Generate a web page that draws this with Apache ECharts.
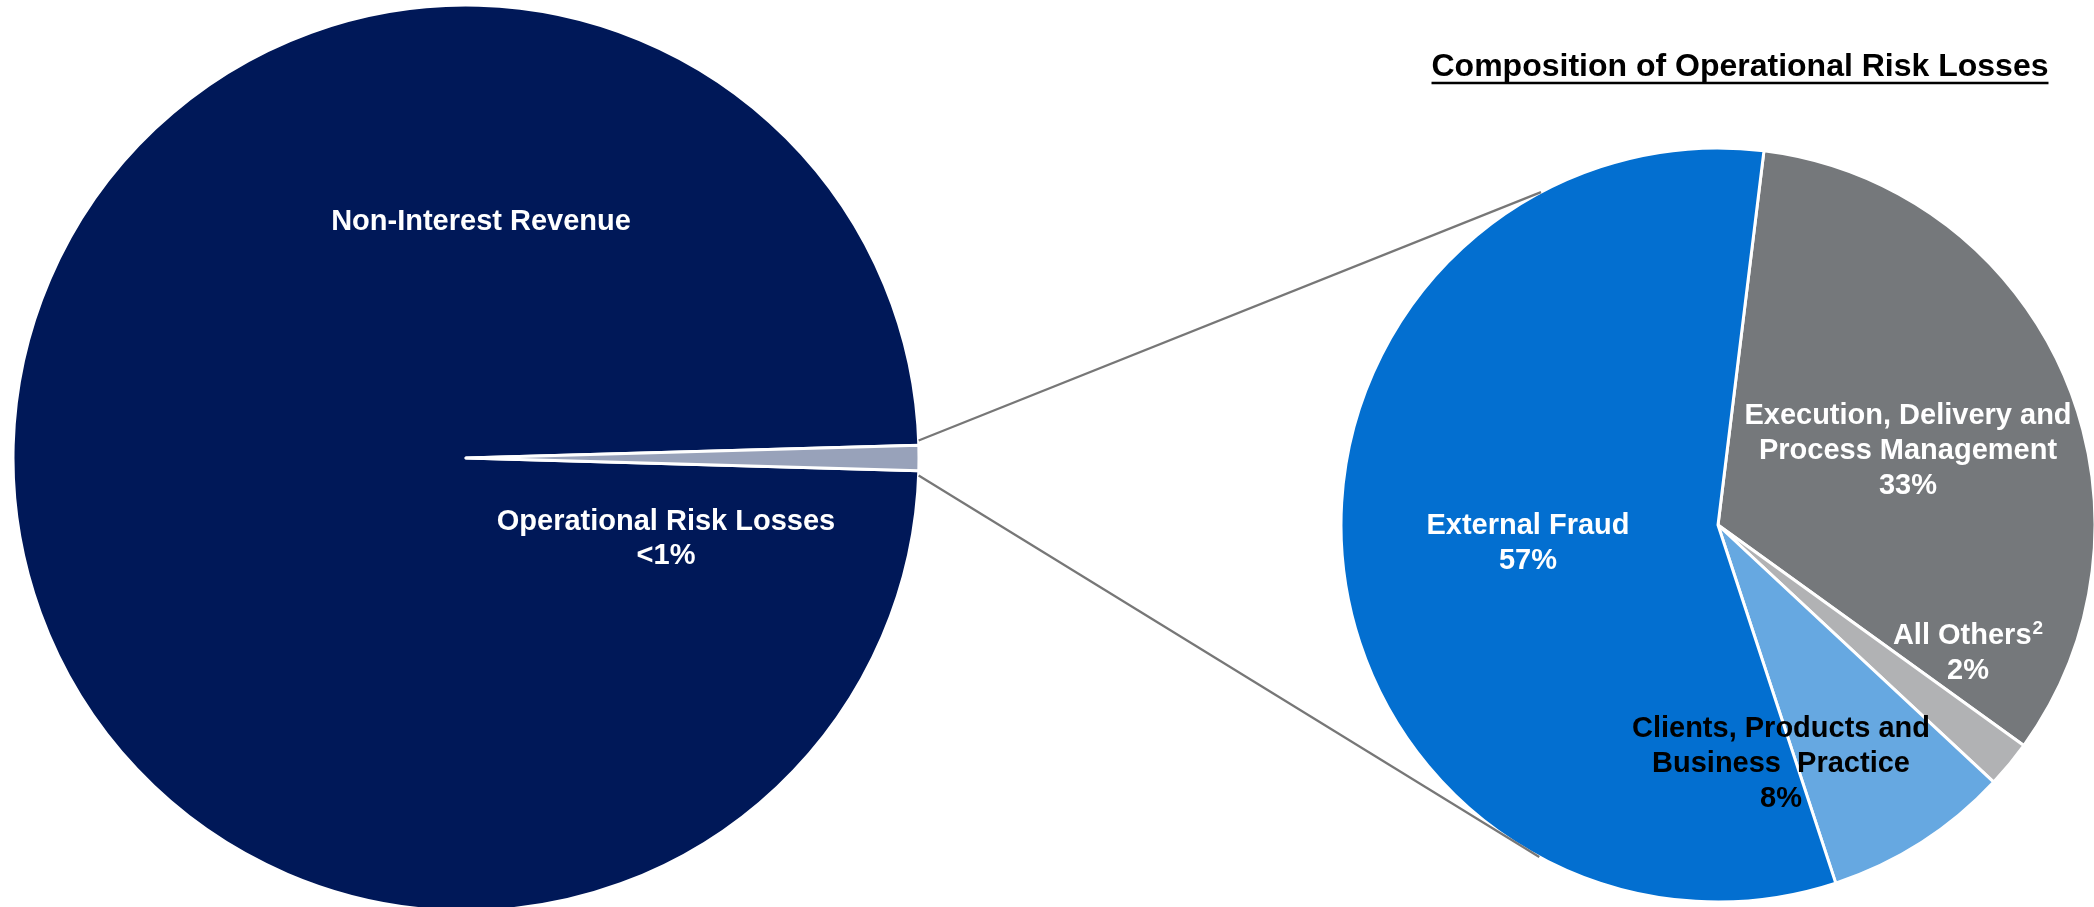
<!DOCTYPE html>
<html>
<head>
<meta charset="utf-8">
<style>
html, body { margin: 0; padding: 0; background: #fff; }
#main { width: 2094px; height: 907px; }
</style>
<script src="https://cdn.jsdelivr.net/npm/echarts@6/dist/echarts.min.js"></script>
</head>
<body>
<div id="main"></div>
<script>
// 数据
var revenueNames = ['Non-Interest Revenue', 'Operational Risk Losses'];
var revenueValues = [99.1, 0.9];
var revenueLabels = ['Non-Interest Revenue', 'Operational Risk Losses\n<1%'];

var lossNames = ['Execution, Delivery and Process Management', 'All Others', 'Clients, Products and Business Practice', 'External Fraud'];
var lossValues = [33, 2, 8, 57];
var lossLabels = [
    'Execution, Delivery and\nProcess Management\n33%',
    'All Others{sup|2}\n2%',
    'Clients, Products and\nBusiness  Practice\n8%',
    'External Fraud\n57%'
];

var titleText = 'Composition of Operational Risk Losses';

// 布局
var FONT = '"Liberation Sans", Arial, sans-serif';
var c1 = [466, 458], r1 = 453;
var c2 = [1718, 525], r2 = 377;
var pos1 = [[481, 222], [666, 539]];
var pos2 = [[1908, 451], [1968, 653], [1781, 764], [1528, 543]];

var myChart = echarts.init(document.getElementById('main'));

function sum(a) { return a.reduce(function (s, v) { return s + v; }, 0); }
var half = revenueValues[1] / sum(revenueValues) * 180; // 小扇区半角

// 连接线：左饼扇区边缘 -> 右饼边缘
function pt(c, r, deg) {
    var a = deg * Math.PI / 180;
    return [c[0] + r * Math.cos(a), c[1] - r * Math.sin(a)];
}
var gap = half + 0.6;
var p1a = pt(c1, r1, gap), p1b = pt(c2, r2, 118);
var p2a = pt(c1, r1, -gap), p2b = pt(c2, r2, -118.3);

// 标题下划线宽度
var ctx = document.createElement('canvas').getContext('2d');
ctx.font = 'bold 32px ' + FONT;
var tw = ctx.measureText(titleText).width;
var titleX = 1740;

var option = {
    backgroundColor: '#fff',
    animation: false,
    title: {
        text: titleText,
        left: titleX,
        top: 51,
        textAlign: 'center',
        padding: 0,
        textStyle: {
            color: '#000',
            fontWeight: 'bold',
            fontFamily: FONT,
            fontSize: 32
        }
    },
    graphic: [
        {
            type: 'line', z: 100,
            shape: { x1: p1a[0], y1: p1a[1], x2: p1b[0], y2: p1b[1] },
            style: { stroke: '#777777', lineWidth: 2.2 }
        },
        {
            type: 'line', z: 100,
            shape: { x1: p2a[0], y1: p2a[1], x2: p2b[0], y2: p2b[1] },
            style: { stroke: '#777777', lineWidth: 2.2 }
        },
        {
            type: 'line', z: 100,
            shape: { x1: titleX - tw / 2, y1: 83, x2: titleX + tw / 2, y2: 83 },
            style: { stroke: '#000', lineWidth: 2.5 }
        }
    ],
    series: [
        {
            type: 'pie',
            z: 2,
            center: c1,
            radius: r1,
            startAngle: -half,
            clockwise: true,
            silent: true,
            label: {
                show: true,
                position: 'inside',
                color: '#fff',
                fontFamily: FONT,
                fontWeight: 'bold',
                fontSize: 29,
                lineHeight: 34,
                formatter: function (p) { return revenueLabels[p.dataIndex]; }
            },
            labelLine: { show: false },
            labelLayout: function (p) {
                var q = pos1[p.dataIndex];
                return { x: q[0], y: q[1], align: 'center', verticalAlign: 'middle' };
            },
            itemStyle: { borderColor: '#fff', borderWidth: 3 },
            data: revenueNames.map(function (n, i) {
                return { name: n, value: revenueValues[i], itemStyle: { color: ['#001858', '#98A2BA'][i] } };
            })
        },
        {
            type: 'pie',
            z: 2,
            center: c2,
            radius: r2,
            startAngle: 83,
            clockwise: true,
            silent: true,
            label: {
                show: true,
                position: 'inside',
                fontFamily: FONT,
                fontWeight: 'bold',
                fontSize: 29,
                lineHeight: 35,
                formatter: function (p) { return lossLabels[p.dataIndex]; },
                rich: {
                    sup: { fontFamily: FONT, fontSize: 19, fontWeight: 'bold', color: '#fff', padding: [0, 0, 13, 1] }
                }
            },
            labelLine: { show: false },
            labelLayout: function (p) {
                var q = pos2[p.dataIndex];
                return { x: q[0], y: q[1], align: 'center', verticalAlign: 'middle' };
            },
            itemStyle: { borderColor: '#fff', borderWidth: 3 },
            data: lossNames.map(function (n, i) {
                return {
                    name: n,
                    value: lossValues[i],
                    itemStyle: { color: ['#75787B', '#B1B2B4', '#66A8E1', '#036FD0'][i] },
                    label: { color: i === 2 ? '#000' : '#fff' }
                };
            })
        }
    ]
};

myChart.setOption(option);
window.onresize = myChart.resize;
</script>
</body>
</html>
